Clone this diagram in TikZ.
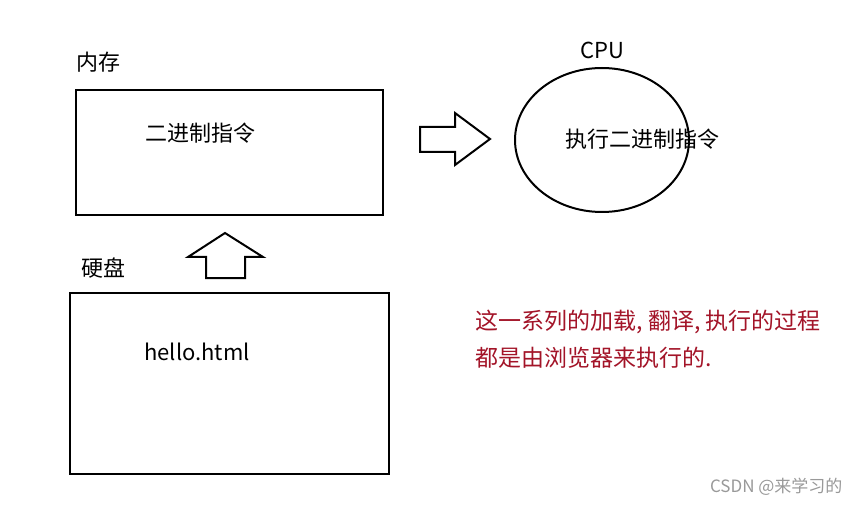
\documentclass[tikz,border=0pt]{standalone}
\usepackage{fontspec}
\setmainfont{Noto Sans CJK SC}
\usetikzlibrary{shapes.geometric}
\definecolor{redtxt}{RGB}{163,20,40}
\begin{document}
\begin{tikzpicture}[x=1pt,y=-1pt,
  box/.style={draw,line width=2pt},
  lbl/.style={font=\fontsize{22}{26}\selectfont},
  arr/.style={draw,line width=2pt,line join=miter}]
\useasboundingbox[fill=white] (0,0) rectangle (857,505);
\node[box,minimum width=307,minimum height=125,anchor=north west] (mem) at (75,89) {};
\node[lbl] (memlbl) at (98,62) {内存};
\node[lbl] (memtxt) at (200,133) {二进制指令};
\node[box,ellipse,minimum width=174,minimum height=144] (cpu) at (602,140) {};
\node[lbl] (cpulbl) at (602,50) {CPU};
\node[lbl] (cputxt) at (642,139) {执行二进制指令};
\draw[arr] (420,127) -- (455,127) -- (455,113) -- (490,139) -- (455,165) -- (455,152) -- (420,152) -- cycle;
\draw[arr] (206,278) -- (206,257) -- (188,257) -- (225,233) -- (263,257) -- (245,257) -- (245,278) -- cycle;
\node[lbl] (disklbl) at (103,268) {硬盘};
\node[box,minimum width=319,minimum height=181,anchor=north west] (disk) at (69,292) {};
\node[lbl] (disktxt) at (197,352) {hello.html};
\node[lbl,font=\fontsize{23}{27}\selectfont,text=redtxt,anchor=west] (r1) at (472,322) {这一系列的加载, 翻译, 执行的过程};
\node[lbl,font=\fontsize{23}{27}\selectfont,text=redtxt,anchor=west] (r2) at (472,358) {都是由浏览器来执行的.};
\node[text=gray!80,font=\fontsize{17}{19}\selectfont,anchor=east] (wm) at (846,487) {CSDN @来学习的};
\end{tikzpicture}
\end{document}
